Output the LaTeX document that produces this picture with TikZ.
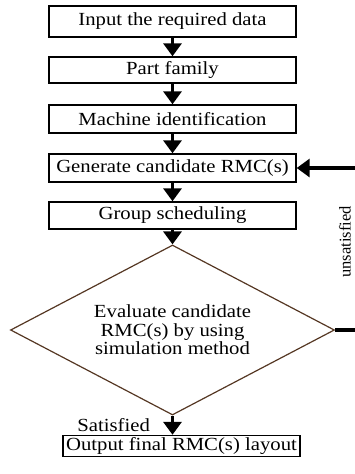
\documentclass[tikz,border=0pt]{standalone}
\usepackage{fontspec}
\setmainfont{Liberation Serif}[FakeStretch=1.12]
\newfontfamily\sidefont{Liberation Serif}
\usetikzlibrary{arrows.meta,shapes.geometric}

\definecolor{evalbrown}{RGB}{85,55,35}

\tikzset{
    stepbox/.style={
        rectangle,
        draw,
        line width=1.4pt,
        minimum width=247pt,
        minimum height=28pt,
        inner sep=0pt,
        font=\fontsize{18.5}{18.5}\selectfont,
    },
    decision/.style={
        diamond,
        aspect=1.9,
        draw=evalbrown,
        line width=1.2pt,
        minimum width=324pt,
        minimum height=170pt,
        inner sep=0pt,
        align=center,
        font=\fontsize{18.5}{18.5}\selectfont,
    },
    flow/.style={-{Triangle[width=18pt,length=13pt]}, line width=3.2pt},
}

\begin{document}
\begin{tikzpicture}[x=1pt,y=-1pt]
    \useasboundingbox (0,0) rectangle (355,474);

    \node[stepbox, minimum height=31pt] (input) at (172.5,21.5) {Input the required data};
    \node[stepbox, minimum height=26pt] (family) at (172.5,70) {Part family};
    \node[stepbox] (machine) at (172.5,119) {Machine identification};
    \node[stepbox] (gen) at (172.5,168) {Generate candidate RMC(s)};
    \node[stepbox, minimum height=27pt] (group) at (172.5,215.5) {Group scheduling};
    \node[decision] (eval) at (172.5,330) {Evaluate candidate\\RMC(s) by using\\simulation method};
    \node[stepbox, minimum width=237pt, minimum height=21pt] (final) at (181.5,446) {Output final RMC(s) layout};

    \draw[flow] (input.south) -- (family.north);
    \draw[flow] (family.south) -- (machine.north);
    \draw[flow] (machine.south) -- (gen.north);
    \draw[flow] (gen.south) -- (group.north);
    \draw[flow] (group.south) -- (eval.north);
    \draw[flow] (eval.south) -- node[left=20pt, inner sep=1pt, font=\fontsize{18.5}{18.5}\selectfont] (sat) {Satisfied} (final.north -| eval.south);

    % feedback loop
    \draw[flow] (eval.east) -- ++(21,0) |- (gen.east);
    \node[rotate=90, font=\sidefont\fontsize{16.5}{18}\selectfont] (unsat) at (345,242) {unsatisfied};

\end{tikzpicture}
\end{document}
